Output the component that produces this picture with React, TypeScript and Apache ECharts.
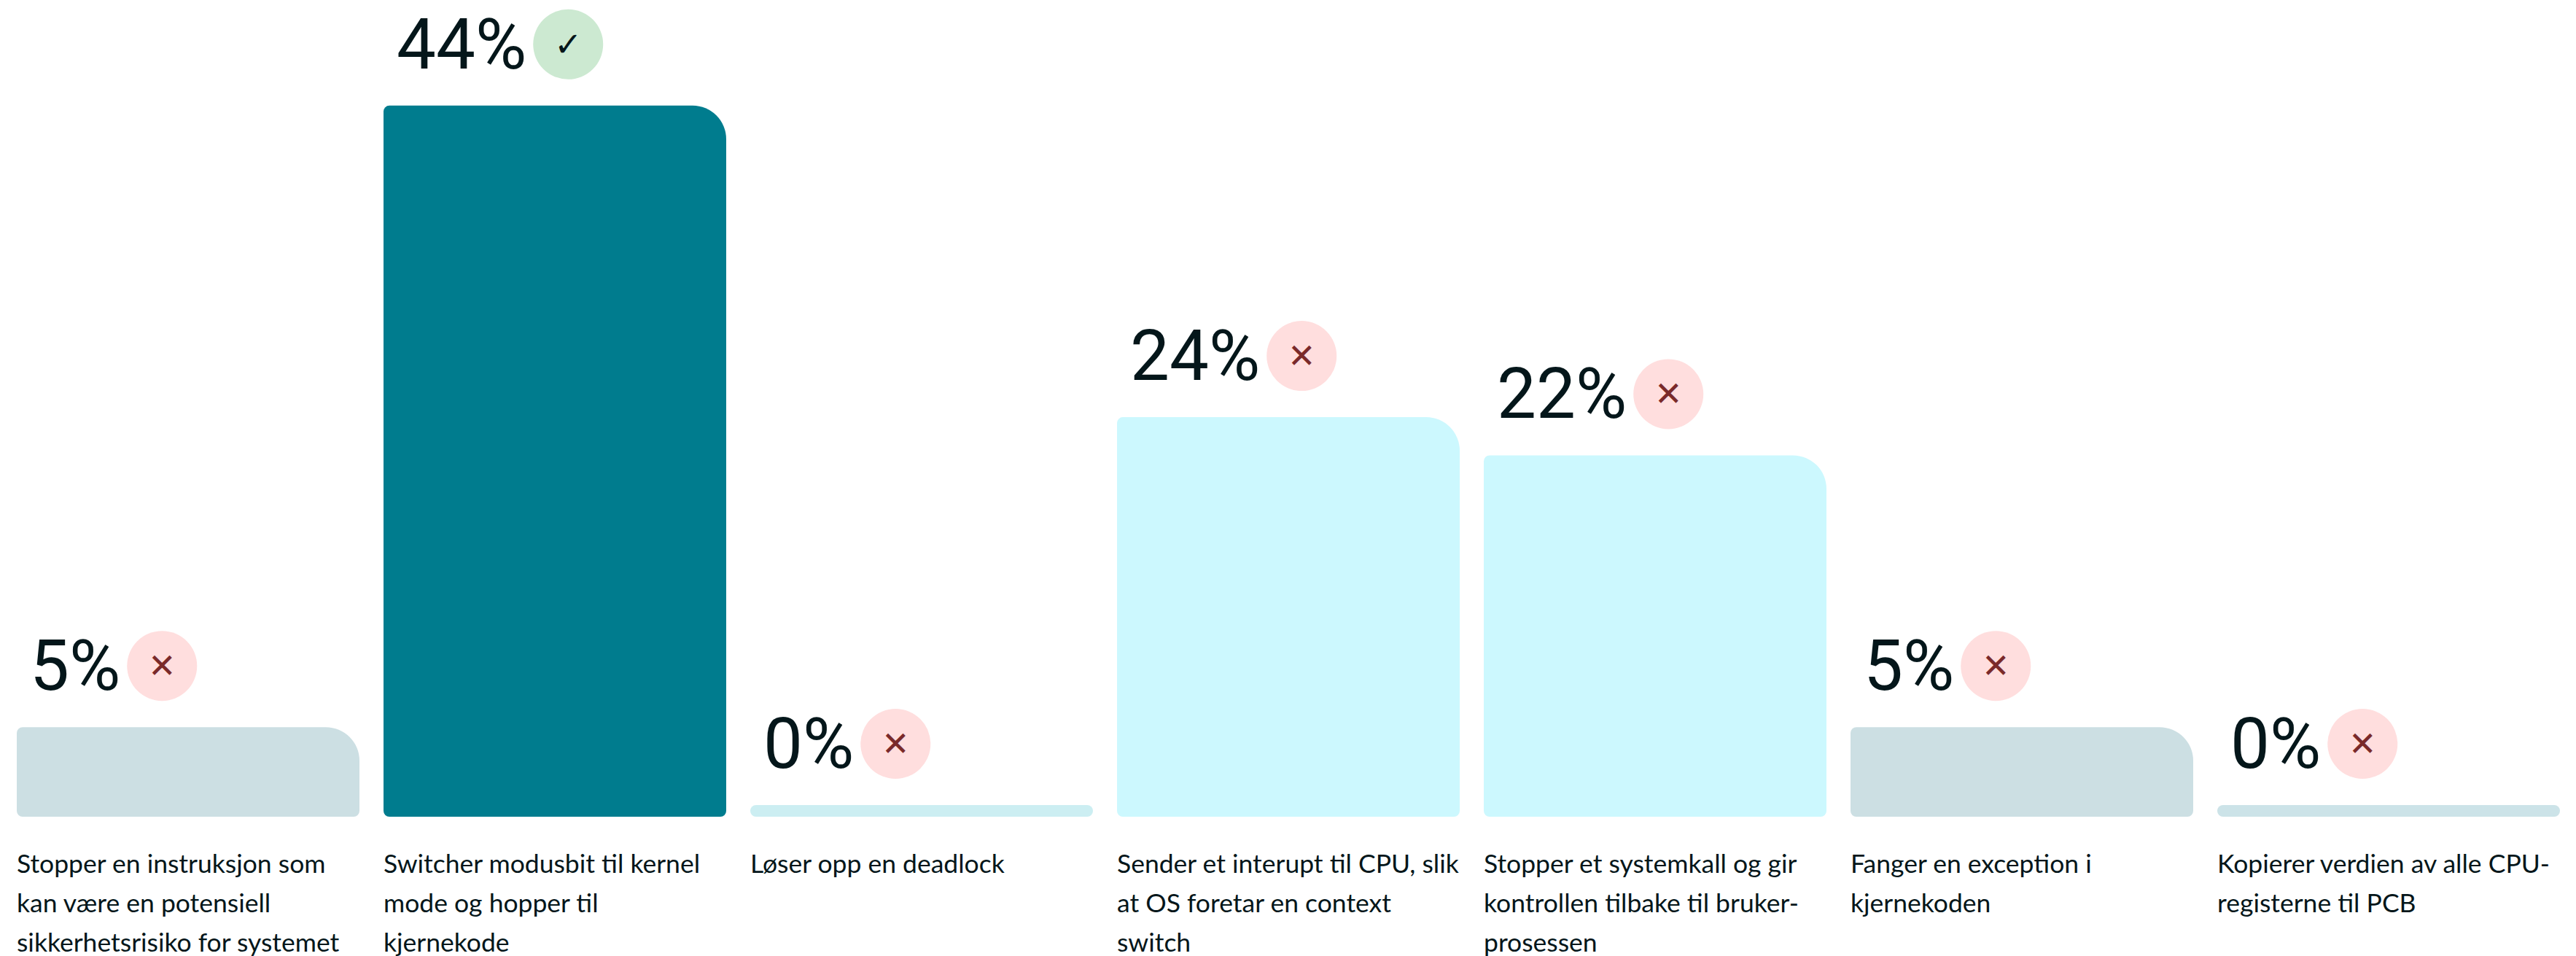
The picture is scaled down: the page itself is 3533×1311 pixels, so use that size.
import React, { useEffect, useRef } from "react";
import * as echarts from "echarts";

const categories = [
  "Stopper en instruksjon som\nkan være en potensiell\nsikkerhetsrisiko for systemet",
  "Switcher modusbit til kernel\nmode og hopper til\nkjernekode",
  "Løser opp en deadlock",
  "Sender et interupt til CPU, slik\nat OS foretar en context\nswitch",
  "Stopper et systemkall og gir\nkontrollen tilbake til bruker-\nprosessen",
  "Fanger en exception i\nkjernekoden",
  "Kopierer verdien av alle CPU-\nregisterne til PCB",
];
const percentValues = [4.9, 44, 0, 24.4, 22, 4.9, 0];
const correctAnswer = [false, true, false, false, false, false, false];
const barColors = ["#CCDFE3", "#007C8E", "#CCEEF2", "#CCF8FE", "#CCF8FE", "#CCDFE3", "#CCE3E8"];

const PX_PER_UNIT = 21.8;
const PLOT_H = 1120;
const BASE_UNITS = 16 / PX_PER_UNIT; // every bar, even 0%, has a 16px foot
const FONT = "Lato";

export default function App() {
  const ref = useRef<HTMLDivElement>(null);
  useEffect(() => {
    const chart = echarts.init(ref.current!, null, { renderer: "svg" });
    chart.setOption({
      animation: false,
      backgroundColor: "#FFFFFF",
      grid: { left: 6.5, width: 3521, top: 0, height: PLOT_H, containLabel: false, outerBoundsMode: "none" },
      xAxis: [
        {
          type: "category",
          data: categories,
          axisLine: { show: false },
          axisTick: { show: false },
          axisLabel: { show: false },
        },
        {
          type: "category",
          boundaryGap: false,
          position: "bottom",
          data: [...categories, ""],
          axisLine: { show: false },
          axisTick: { show: false },
          axisLabel: {
            interval: 0,
            align: "left",
            verticalAlign: "top",
            margin: 36,
            padding: [0, 0, 0, 16.5],
            color: "#04161A",
            fontFamily: FONT,
            fontSize: 35.5,
            lineHeight: 54,
          },
        },
      ],
      yAxis: { type: "value", min: 0, max: PLOT_H / PX_PER_UNIT, show: false },
      series: [
        {
          type: "bar",
          xAxisIndex: 0,
          barWidth: 470,
          data: percentValues.map((v, i) => ({
            value: v + BASE_UNITS,
            itemStyle: {
              color: barColors[i],
              borderRadius: v === 0 ? [8, 8, 8, 8] : [8, 46, 8, 8],
            },
          })),
          label: {
            show: true,
            position: [18, -132],
            formatter: (p: any) => {
              const pct = Math.round(percentValues[p.dataIndex]);
              return correctAnswer[p.dataIndex]
                ? `{num|${pct}%}{gap|}{ok|✓}`
                : `{num|${pct}%}{gap|}{bad|✕}`;
            },
            rich: {
              num: { fontFamily: "Roboto", fontWeight: 400, fontSize: 96, color: "#04161A", height: 96, lineHeight: 96 },
              gap: { width: 9, height: 96 },
              ok: {
                width: 96, height: 96, lineHeight: 96, borderRadius: 48, align: "center",
                backgroundColor: "#CCE9D1", color: "#04161A", fontSize: 46, fontFamily: "DejaVu Sans",
              },
              bad: {
                width: 96, height: 96, lineHeight: 96, borderRadius: 48, align: "center",
                backgroundColor: "#FFDEDE", color: "#7A2A2A", fontSize: 46, fontFamily: "DejaVu Sans",
              },
            },
          },
        },
      ],
    });
    return () => chart.dispose();
  }, []);
  return <div ref={ref} style={{ position: "fixed", left: 0, top: 0, width: 3533, height: 1311 }} />;
}
